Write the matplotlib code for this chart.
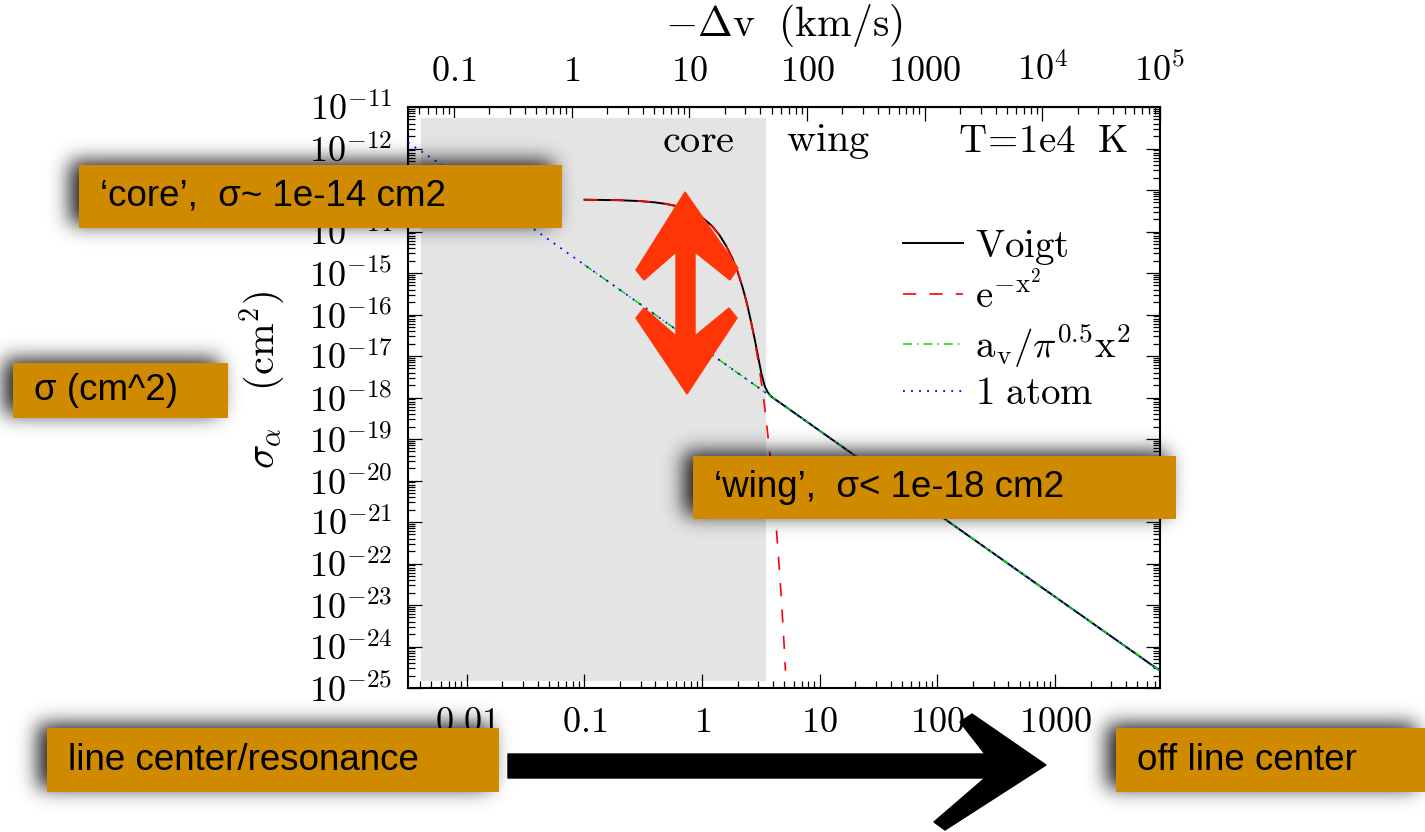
import numpy as np
import matplotlib.pyplot as plt
from matplotlib.patches import Rectangle, Polygon
from matplotlib.ticker import LogLocator, NullFormatter

plt.rcParams.update(
    {
        "mathtext.fontset": "cm",
        "font.family": "serif",
        "axes.unicode_minus": True,
        "lines.scale_dashes": False,
    }
)

# Ly-alpha cross-section vs. frequency offset x = dnu/dnu_D, T = 1e4 K
V_TH = 12.85  # thermal velocity, km/s
X_MIN, X_MAX = 10**-2.5, 1e5 / V_TH

x_voigt = [0.1, 0.2, 0.3, 0.4, 0.5, 0.6, 0.7, 0.8, 0.9, 1.0, 1.2, 1.4, 1.6, 1.8,
           2.0, 2.2, 2.4, 2.6, 2.8, 3.0, 3.2, 3.4, 3.6, 3.8, 4.0, 5.0, 10, 100,
           1000, 7782]
sig_voigt = [5.84e-14, 5.67e-14, 5.39e-14, 5.02e-14, 4.59e-14, 4.11e-14, 3.60e-14,
             3.11e-14, 2.63e-14, 2.17e-14, 1.40e-14, 8.3e-15, 4.5e-15, 2.3e-15,
             1.08e-15, 4.6e-16, 1.86e-16, 6.8e-17, 2.5e-17, 9.0e-18, 3.6e-18,
             1.9e-18, 1.35e-18, 1.1e-18, 9.8e-19, 6.3e-19, 1.57e-19, 1.57e-21,
             1.57e-23, 2.6e-25]

x_gauss = [0.1, 0.2, 0.3, 0.4, 0.5, 0.6, 0.7, 0.8, 0.9, 1.0, 1.2, 1.4, 1.6, 1.8,
           2.0, 2.2, 2.4, 2.6, 2.8, 3.0, 3.2, 3.4, 3.6, 3.8, 4.0, 4.2, 4.4, 4.6,
           4.8, 5.0, 5.1]
sig_gauss = [5.84e-14, 5.67e-14, 5.39e-14, 5.02e-14, 4.59e-14, 4.11e-14, 3.60e-14,
             3.11e-14, 2.63e-14, 2.17e-14, 1.40e-14, 8.3e-15, 4.5e-15, 2.3e-15,
             1.08e-15, 4.6e-16, 1.86e-16, 6.8e-17, 2.3e-17, 7.3e-18, 2.1e-18,
             5.8e-19, 1.4e-19, 3.2e-20, 6.6e-21, 1.3e-21, 2.3e-22, 3.9e-23,
             5.9e-24, 8.2e-25, 2.6e-25]

x_lorentz = [0.1, 1, 10, 100, 1000, 7782]
sig_lorentz = [1.57e-15, 1.57e-17, 1.57e-19, 1.57e-21, 1.57e-23, 2.6e-25]

x_atom = [0.00316, 0.01, 0.1, 1, 10, 100, 1000, 7782]
sig_atom = [1.4e-12, 1.57e-13, 1.57e-15, 1.57e-17, 1.57e-19, 1.57e-21, 1.57e-23,
            2.6e-25]

core_edge = 3.5

x_ticks = [0.01, 0.1, 1, 10, 100, 1000]
x_ticklabels = [r"$0.01$", r"$0.1$", r"$1$", r"$10$", r"$100$", r"$1000$"]
v_ticks = [0.1, 1, 10, 100, 1000, 1e4, 1e5]
v_ticklabels = [r"$0.1$", r"$1$", r"$10$", r"$100$", r"$1000$", r"$10^4$", r"$10^5$"]
y_exponents = list(range(-11, -26, -1))

# slide callouts: (left, top, right, bottom) in pixels, text
boxes = [
    ((79, 165, 562, 228), "\u2018core\u2019,  \u03c3~ 1e-14 cm2"),
    ((13, 363, 228, 418), "\u03c3 (cm^2)"),
    ((693, 456, 1176, 519), "\u2018wing\u2019,  \u03c3< 1e-18 cm2"),
    ((47, 728, 499, 792), "line center/resonance"),
    ((1116, 728, 1425, 792), "off line center"),
]

W, H = 1425, 832
fig = plt.figure(figsize=(W / 100, H / 100), dpi=100)
ax = fig.add_axes([408 / W, 1 - 688 / H, 752 / W, 581 / H])

ax.set_xscale("log")
ax.set_yscale("log")
ax.set_xlim(X_MIN, X_MAX)
ax.set_ylim(1e-25, 1e-11)

ax.add_patch(Rectangle((4.1e-3, 1.5e-25), core_edge - 4.1e-3, 5.5e-12 - 1.5e-25,
                       facecolor="#e4e4e4", edgecolor="none", zorder=0.5))

ax.plot(x_voigt, sig_voigt, color="black", lw=1.4, label=r"$\mathrm{Voigt}$", zorder=2)
ax.plot(x_gauss, sig_gauss, color="red", lw=1.2, dashes=(9.5, 9.5),
        label=r"$\mathrm{e}^{-\mathrm{x}^2}$", zorder=3)
ax.plot(x_lorentz, sig_lorentz, color="#00e000", lw=1.1, dashes=(6.5, 3.5, 1.2, 3.5),
        label=r"$\mathrm{a_v}/\pi^{0.5}\mathrm{x}^2$", zorder=3)
ax.plot(x_atom, sig_atom, color="blue", lw=1.3, dashes=(1.3, 4.5),
        label=r"$\mathrm{1\ atom}$", zorder=3)

ax.set_xticks(x_ticks, labels=x_ticklabels)
ax.xaxis.set_minor_locator(LogLocator(subs=np.arange(2, 10), numticks=100))
ax.xaxis.set_minor_formatter(NullFormatter())
ax.set_yticks([10.0**e for e in y_exponents],
              labels=[r"$10^{%d}$" % e for e in y_exponents])
ax.yaxis.set_minor_locator(LogLocator(subs=np.arange(2, 10), numticks=100))
ax.yaxis.set_minor_formatter(NullFormatter())
ax.tick_params(which="both", direction="in", top=False, right=True, labelsize=26,
               width=0.9)
ax.tick_params(which="major", length=10, pad=11)
ax.tick_params(which="minor", length=5)
ax.tick_params(axis="x", pad=12)
for s in ax.spines.values():
    s.set_linewidth(1.5)

sec = ax.secondary_xaxis("top", functions=(lambda x: x * V_TH, lambda v: v / V_TH))
sec.set_xticks(v_ticks, labels=v_ticklabels)
sec.xaxis.set_minor_locator(LogLocator(subs=np.arange(2, 10), numticks=100))
sec.xaxis.set_minor_formatter(NullFormatter())
sec.tick_params(which="both", direction="in", labelsize=26, width=0.9)
sec.tick_params(which="major", length=10, pad=14)
sec.tick_params(which="minor", length=5)
sec.spines["top"].set_linewidth(1.5)
sec.set_xlabel(r"$-\Delta\mathrm{v}\ \ \mathrm{(km/s)}$", fontsize=30, labelpad=12)

ax.set_ylabel(r"$\sigma_\alpha\ \ \ \mathrm{(cm^2)}$", fontsize=29)
ax.yaxis.set_label_coords(-0.16, 0.53)

ax.text(0.386, 0.94, r"$\mathrm{core}$", transform=ax.transAxes, fontsize=29,
        ha="center", va="center")
ax.text(0.558, 0.94, r"$\mathrm{wing}$", transform=ax.transAxes, fontsize=29,
        ha="center", va="center")
ax.text(0.958, 0.94, r"$\mathrm{T}\!=\!\mathrm{1e4\ \ K}$", transform=ax.transAxes,
        fontsize=28, ha="right", va="center")

ax.legend(loc="upper left", bbox_to_anchor=(0.632, 0.826), frameon=False, fontsize=28,
          handlelength=1.55, handletextpad=0.3, labelspacing=0.14, borderpad=0)

# overlay layer in pixel coordinates for the callouts and arrows
ov = fig.add_axes([0, 0, 1, 1], zorder=10)
ov.set_xlim(0, W)
ov.set_ylim(H, 0)
ov.axis("off")

mask = np.zeros((H, W))
dx, dy = 9, 4
for (x0, y0, x1, y1), _ in boxes:
    mask[max(y0 - dy, 0):y1 - dy, max(x0 - dx, 0):x1 - dx] = 1.0
k = np.arange(-36, 37)
kern = np.exp(-0.5 * (k / 10.0) ** 2)
kern /= kern.sum()
blur = np.apply_along_axis(lambda r: np.convolve(r, kern, mode="same"), 1, mask)
blur = np.apply_along_axis(lambda c: np.convolve(c, kern, mode="same"), 0, blur)
shadow = np.zeros((H, W, 4))
shadow[..., 3] = 0.9 * blur
ov.imshow(shadow, extent=(0, W, H, 0), aspect="auto", interpolation="bilinear", zorder=1)

for (x0, y0, x1, y1), label in boxes:
    ov.add_patch(Rectangle((x0, y0), x1 - x0, y1 - y0, facecolor="#cf8a00",
                           edgecolor="none", zorder=2))
    ov.text(x0 + 21, (y0 + y1) / 2, label, family="Liberation Sans", fontsize=26.5,
            ha="left", va="center", color="black", zorder=3)

red_arrow = [(685, 192), (738, 268), (730, 280), (695, 252), (695, 336), (729, 308),
             (737, 318), (687, 394), (636, 318), (644, 308), (676, 336), (676, 252),
             (644, 280), (636, 270)]
ov.add_patch(Polygon(red_arrow, closed=True, facecolor="#ff3508", edgecolor="#ff3508",
                     lw=1, zorder=4))

black_arrow = [(508, 754), (985, 754), (960, 722), (972, 714), (1046, 765), (945, 830),
               (934, 822), (985, 778), (508, 778)]
ov.add_patch(Polygon(black_arrow, closed=True, facecolor="black", edgecolor="black",
                     lw=1, zorder=4))

fig.savefig("out.png", dpi=100)
